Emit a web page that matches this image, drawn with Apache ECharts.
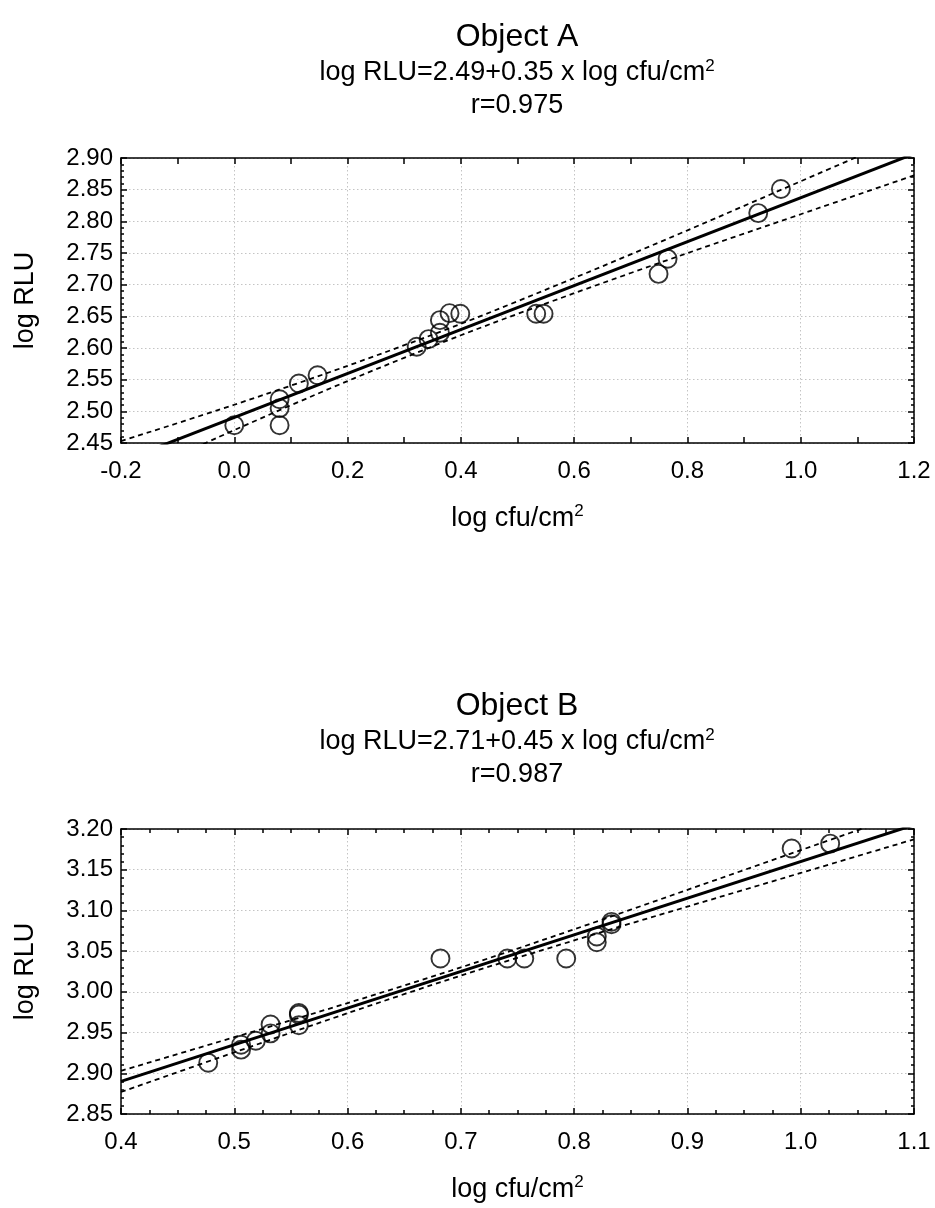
<!DOCTYPE html>
<html><head><meta charset="utf-8">
<script src="https://cdn.jsdelivr.net/npm/echarts@6/dist/echarts.min.js"></script>
<style>html,body{margin:0;padding:0;background:#fff}#c{width:935px;height:1208px}</style>
</head><body><div id="c"></div>
<script>
// ---- Object A data ----
const aX = [0.000, 0.080, 0.080, 0.080, 0.114, 0.147, 0.322, 0.343, 0.363, 0.363, 0.380, 0.399, 0.533, 0.546, 0.749, 0.765, 0.925, 0.965];
const aY = [2.478, 2.478, 2.505, 2.519, 2.544, 2.557, 2.602, 2.614, 2.624, 2.644, 2.655, 2.654, 2.654, 2.654, 2.717, 2.741, 2.813, 2.851];
const aFitX = [-0.2, 1.2];
const aFitY = [2.421, 2.9066];
const aBandX = [-0.2, 0.0, 0.2, 0.4, 0.6, 0.8, 1.0, 1.2];
const aUpper = [2.453, 2.5104, 2.5718, 2.6381, 2.7105, 2.7858, 2.8632, 2.9406];
const aLower = [2.389, 2.4704, 2.5478, 2.6201, 2.6865, 2.7498, 2.8112, 2.8726];

// ---- Object B data ----
const bX = [0.477, 0.506, 0.506, 0.519, 0.532, 0.532, 0.557, 0.557, 0.557, 0.682, 0.741, 0.756, 0.793, 0.820, 0.820, 0.833, 0.833, 0.992, 1.026];
const bY = [2.913, 2.935, 2.929, 2.940, 2.960, 2.949, 2.974, 2.972, 2.959, 3.041, 3.041, 3.041, 3.041, 3.061, 3.068, 3.083, 3.086, 3.176, 3.182];
const bFitX = [0.4, 1.1];
const bFitY = [2.89, 3.205];
const bBandX = [0.4, 0.5, 0.6, 0.7, 0.8, 0.9, 1.0, 1.1];
const bUpper = [2.903, 2.9443, 2.9862, 3.030, 3.0768, 3.1253, 3.174, 3.2227];
const bLower = [2.877, 2.9257, 2.9738, 3.020, 3.0632, 3.1047, 3.146, 3.1873];

const titles = [
  ['Object A', 'log RLU=2.49+0.35 x log cfu/cm{sup|2}', 'r=0.975'],
  ['Object B', 'log RLU=2.71+0.45 x log cfu/cm{sup|2}', 'r=0.987']
];
const xName = 'log cfu/cm{sup|2}';
const yName = 'log RLU';

const FONT = 'Liberation Sans, Arial, sans-serif';
const zip = (xs, ys) => xs.map((x, i) => [x, ys[i]]);
const supRich = {
  n: { fontSize: 27, lineHeight: 31, fontFamily: FONT, color: '#000' },
  sup: { fontSize: 17, lineHeight: 17, verticalAlign: 'top', fontFamily: FONT, color: '#000' }
};
const tickStyle = { color: '#000', width: 1.5 };

function xAxes(gi, min, max, interval, minorSplit, minorLen, dec) {
  const base = {
    type: 'value', gridIndex: gi, min, max, interval,
    axisLine: { show: true, onZero: false, lineStyle: { color: '#000', width: 1.5 } },
    axisTick: { show: true, inside: true, length: 6, lineStyle: tickStyle },
    minorTick: { show: true, splitNumber: minorSplit, length: minorLen, lineStyle: tickStyle },
    splitLine: { show: false },
    axisLabel: { show: false }
  };
  return [
    Object.assign({}, base, {
      position: 'bottom',
      splitLine: { show: true, lineStyle: { type: [1.5, 2.5], color: '#c4c4c4', width: 1 } },
      axisLabel: { show: true, fontSize: 24, fontFamily: FONT, color: '#000', margin: 16,
        showMinLabel: true, showMaxLabel: true, formatter: v => v.toFixed(dec) },
      name: '{n|' + xName.replace('{sup|2}', '}{sup|2}'), nameLocation: 'middle', nameGap: 60,
      nameTextStyle: { rich: supRich }
    }),
    Object.assign({}, base, { position: 'top' })
  ];
}
function yAxes(gi, min, max, interval, minorSplit) {
  const base = {
    type: 'value', gridIndex: gi, min, max, interval,
    axisLine: { show: true, onZero: false, lineStyle: { color: '#000', width: 1.5 } },
    axisTick: { show: true, inside: true, length: 6, lineStyle: tickStyle },
    minorTick: { show: true, splitNumber: minorSplit, length: 3, lineStyle: tickStyle },
    splitLine: { show: false },
    axisLabel: { show: false }
  };
  return [
    Object.assign({}, base, {
      position: 'left',
      splitLine: { show: true, lineStyle: { type: [1.5, 2.5], color: '#c4c4c4', width: 1 } },
      axisLabel: { show: true, fontSize: 24, fontFamily: FONT, color: '#000', margin: 8,
        showMinLabel: true, showMaxLabel: true, formatter: v => v.toFixed(2) },
      name: yName, nameLocation: 'middle', nameGap: 82,
      nameTextStyle: { fontSize: 27, fontFamily: FONT, color: '#000' }
    }),
    Object.assign({}, base, { position: 'right' })
  ];
}

function seriesFor(xi, yi, px, py, fx, fy, bx, bu, bl) {
  const common = { xAxisIndex: xi, yAxisIndex: yi, silent: true, animation: false };
  return [
    Object.assign({ type: 'line', data: zip(bx, bu), smooth: 0.3, showSymbol: false, clip: true,
      lineStyle: { color: '#000', width: 1.8, type: [5, 4] } }, common),
    Object.assign({ type: 'line', data: zip(bx, bl), smooth: 0.3, showSymbol: false, clip: true,
      lineStyle: { color: '#000', width: 1.8, type: [5, 4] } }, common),
    Object.assign({ type: 'line', data: zip(fx, fy), showSymbol: false, clip: true,
      lineStyle: { color: '#000', width: 3 } }, common),
    Object.assign({ type: 'scatter', data: zip(px, py), symbol: 'circle', symbolSize: 18,
      itemStyle: { color: 'rgba(0,0,0,0)', borderColor: '#000', borderWidth: 1.9 } }, common)
  ];
}

function titleGraphics(t, y0) {
  return [
    { type: 'text', x: 517, y: y0, style: { text: t[0], fontSize: 32, fontFamily: FONT, fill: '#000', textAlign: 'center', textVerticalAlign: 'middle' } },
    { type: 'text', x: 517, y: y0 + 36, style: { text: '{n|' + t[1].replace('{sup|2}', '}{sup|2}'), rich: supRich, textAlign: 'center', textVerticalAlign: 'middle' } },
    { type: 'text', x: 517, y: y0 + 69, style: { text: t[2], fontSize: 27, fontFamily: FONT, fill: '#000', textAlign: 'center', textVerticalAlign: 'middle' } }
  ];
}

const chart = echarts.init(document.getElementById('c'), null, { renderer: 'canvas' });
chart.setOption({
  animation: false,
  backgroundColor: '#fff',
  textStyle: { fontFamily: FONT },
  grid: [
    { left: 121, top: 158, width: 793, height: 285 },
    { left: 121, top: 829, width: 793, height: 285 }
  ],
  xAxis: [].concat(xAxes(0, -0.2, 1.2, 0.2, 2, 6, 1), xAxes(1, 0.4, 1.1, 0.1, 4, 4, 1)),
  yAxis: [].concat(yAxes(0, 2.45, 2.90, 0.05, 5), yAxes(1, 2.85, 3.20, 0.05, 5)),
  series: [].concat(
    seriesFor(0, 0, aX, aY, aFitX, aFitY, aBandX, aUpper, aLower),
    seriesFor(2, 2, bX, bY, bFitX, bFitY, bBandX, bUpper, bLower)
  ),
  graphic: [].concat(titleGraphics(titles[0], 37), titleGraphics(titles[1], 706))
});
</script></body></html>
